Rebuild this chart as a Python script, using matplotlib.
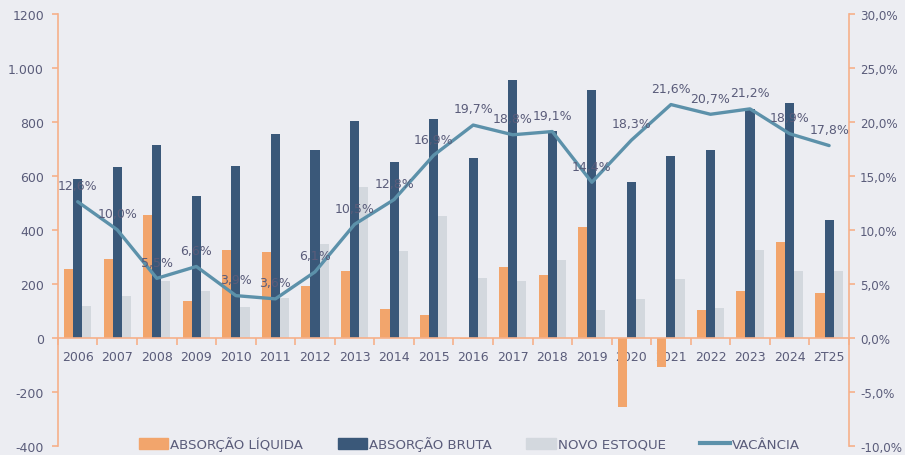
import matplotlib

matplotlib.use("Agg")
import matplotlib.pyplot as plt
from matplotlib.lines import Line2D
from matplotlib.patches import Patch
import numpy as np

years = ["2006", "2007", "2008", "2009", "2010", "2011", "2012", "2013", "2014", "2015",
         "2016", "2017", "2018", "2019", "2020", "2021", "2022", "2023", "2024", "2T25"]
absorcao_liquida = [255, 293, 456, 137, 325, 319, 190, 248, 106, 84,
                    -5, 261, 231, 410, -255, -110, 101, 175, 353, 166]
absorcao_bruta = [589, 632, 715, 526, 637, 756, 697, 804, 651, 812,
                  665, 954, 767, 917, 577, 675, 694, 848, 870, 437]
novo_estoque = [119, 156, 212, 173, 115, 148, 348, 558, 320, 450,
                221, 211, 289, 104, 142, 217, 111, 324, 246, 247]
vacancia = [12.6, 10.0, 5.5, 6.6, 3.9, 3.6, 6.1, 10.5, 12.8, 16.9,
            19.7, 18.8, 19.1, 14.4, 18.3, 21.6, 20.7, 21.2, 18.9, 17.8]
left_ticks = [-400, -200, 0, 200, 400, 600, 800, 1000, 1200]
left_labels = ["-400", "-200", "0", "200", "400", "600", "800", "1.000", "1200"]

BG = "#ECEDF2"
ORANGE = "#F2A56C"
NAVY = "#3A5879"
GREY = "#D3D8DE"
LINE = "#5C91AA"
AXIS = "#F6B08A"
TEXT = "#5A5C7A"

plt.rcParams["font.family"] = ["DejaVu Sans"]

fig = plt.figure(figsize=(9.05, 4.56), dpi=100, facecolor=BG)
ax = fig.add_axes([0.064, 0.0204, 0.874, 0.947], facecolor=BG)
x = np.arange(len(years))
w = 0.23

ax.bar(x - w, absorcao_liquida, w, color=ORANGE, zorder=2)
ax.bar(x, absorcao_bruta, w, color=NAVY, zorder=2)
ax.bar(x + w, novo_estoque, w, color=GREY, zorder=2)

ax.set_xlim(-0.5, len(years) - 0.5)
ax.set_ylim(-400, 1200)
ax.set_yticks(left_ticks)
ax.set_yticklabels(left_labels)

ax.spines["top"].set_visible(False)
ax.spines["right"].set_visible(False)
ax.spines["bottom"].set_position(("data", 0))
for s in ("left", "bottom"):
    ax.spines[s].set_color(AXIS)
    ax.spines[s].set_linewidth(1.2)

ax.set_xticks(x)
ax.set_xticklabels(years)
ax.set_xticks(np.arange(-0.5, len(years)), minor=True)
ax.tick_params(axis="x", which="major", length=0, pad=9, labelsize=9, labelcolor=TEXT)
ax.tick_params(axis="x", which="minor", length=5, color=AXIS, width=1.2, direction="out")
ax.tick_params(axis="y", length=4, color=AXIS, width=1.2, labelsize=9, labelcolor=TEXT, pad=6)

ax2 = ax.twinx()
ax2.plot(x, vacancia, color=LINE, linewidth=2.4, zorder=5, solid_capstyle="round")
ax2.set_ylim(-10, 30)
ax2.set_yticks(range(-10, 31, 5))
ax2.set_yticklabels([f"{v:.1f}%".replace(".", ",") for v in range(-10, 31, 5)])
for s in ("top", "left", "bottom"):
    ax2.spines[s].set_visible(False)
ax2.spines["right"].set_color(AXIS)
ax2.spines["right"].set_linewidth(1.2)
ax2.tick_params(axis="y", length=4, color=AXIS, width=1.2, labelsize=8.6, labelcolor=TEXT, pad=4)

for xi, v in zip(x, vacancia):
    ax2.annotate(f"{v:.1f}%".replace(".", ","), (xi, v), xytext=(0, 7), textcoords="offset points",
                 ha="center", va="bottom", fontsize=9, color=TEXT, zorder=6)

handles = [
    Patch(color=ORANGE, label="ABSORÇÃO LÍQUIDA"),
    Patch(color=NAVY, label="ABSORÇÃO BRUTA"),
    Patch(color=GREY, label="NOVO ESTOQUE"),
    Line2D([0], [0], color=LINE, linewidth=3, label="VACÂNCIA"),
]
leg = ax.legend(handles=handles, loc="lower center", bbox_to_anchor=(0.52, -0.04), ncol=4,
                frameon=False, fontsize=9.6, handlelength=2.2, handleheight=0.9,
                handletextpad=0.15, columnspacing=2.6)
for t in leg.get_texts():
    t.set_color(TEXT)

fig.savefig("out.png", dpi=100, facecolor=BG)
